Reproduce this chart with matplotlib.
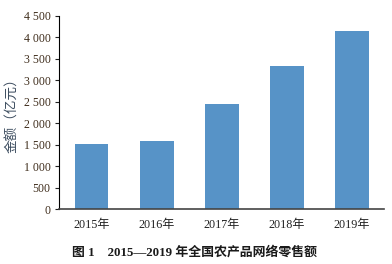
import matplotlib
matplotlib.use("Agg")
import matplotlib.pyplot as plt

years = ["2015年", "2016年", "2017年", "2018年", "2019年"]
sales = [1505, 1590, 2437, 3340, 4160]
yticks = [0, 500, 1000, 1500, 2000, 2500, 3000, 3500, 4000, 4500]
ytick_labels = ["0", "500", "1 000", "1 500", "2 000", "2 500", "3 000", "3 500", "4 000", "4 500"]

fonts = ["Liberation Serif", "Noto Sans CJK SC"]
plt.rcParams["font.family"] = fonts

fig = plt.figure(figsize=(3.92, 2.64), dpi=100)
ax = fig.add_axes([0.1505, 0.2083, 0.83, 0.7311])

x = range(len(years))
ax.bar(x, sales, width=0.52, color="#5793c7")

ax.set_xlim(-0.5, len(years) - 0.5)
ax.set_ylim(0, 4500)
ax.set_yticks(yticks)
ax.set_yticklabels(ytick_labels, fontsize=8.5, color="#3f2d1c")
ax.set_xticks(list(x))
ax.set_xticklabels(years, fontsize=8.7, color="#222222")
ax.tick_params(axis="y", direction="out", length=3, width=0.8, pad=3, colors="#222222", labelcolor="#3f2d1c")
ax.tick_params(axis="x", length=0, pad=7)

for s in ["top", "right"]:
    ax.spines[s].set_visible(False)
ax.spines["left"].set_linewidth(0.8)
ax.spines["bottom"].set_linewidth(1.2)
ax.spines["bottom"].set_color("#444444")

ax.set_ylabel("金额（亿元）", fontsize=9.8, color="#3e4e60", labelpad=3)

fig.text(0.497, 0.045, "图 1    2015—2019 年全国农产品网络零售额", ha="center", va="center",
         fontsize=9.3, fontweight="bold", color="#1a1a1a")

fig.savefig("out.png", dpi=100)
